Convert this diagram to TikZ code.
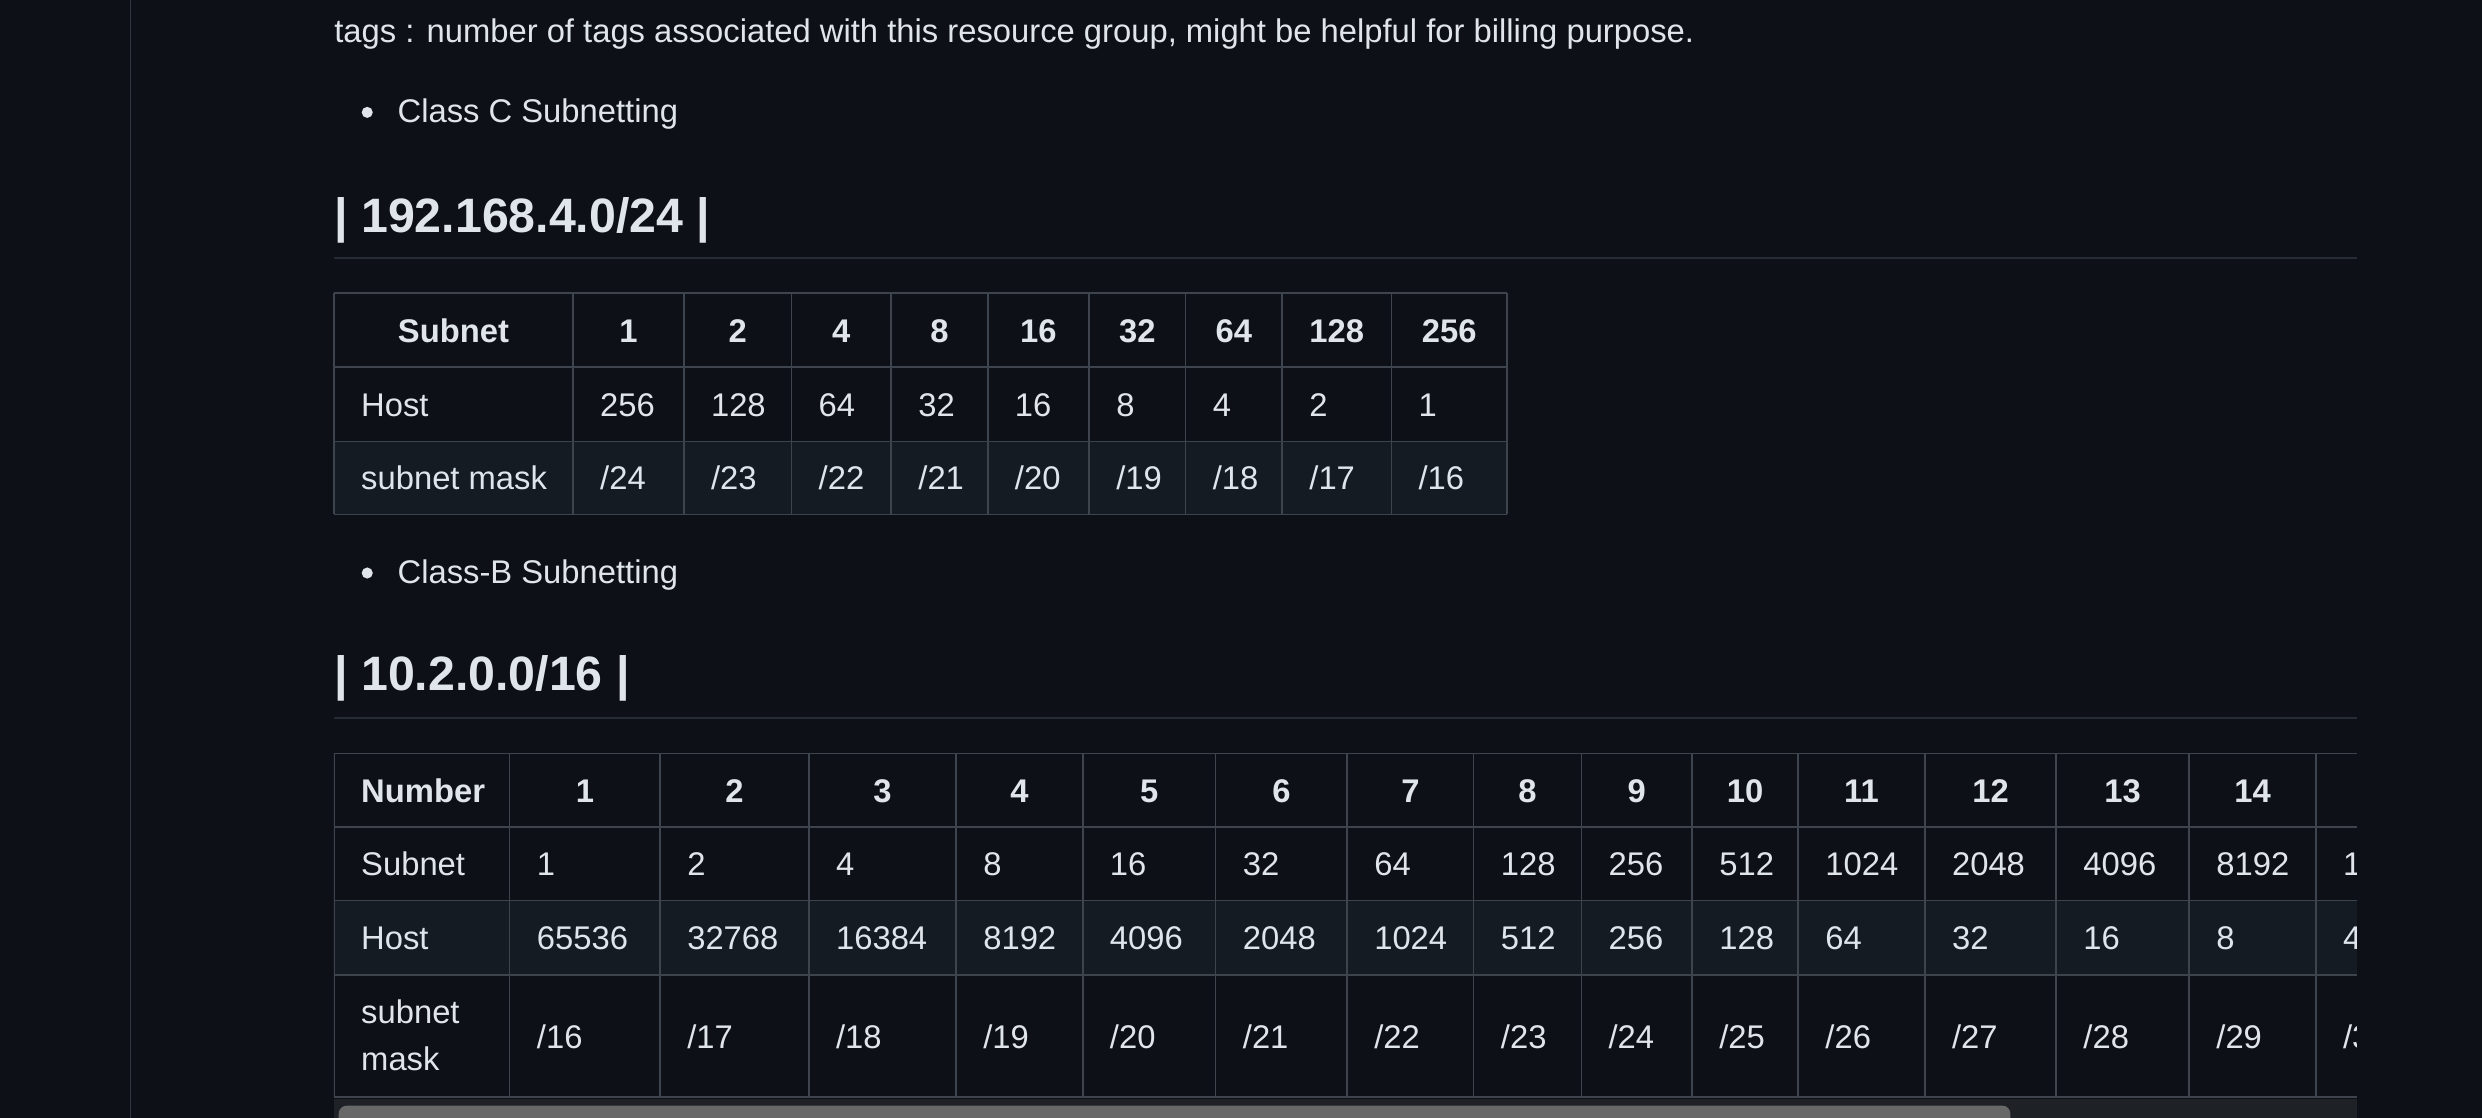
\documentclass[tikz,border=0pt]{standalone}
\usepackage{fontspec}
\setmainfont{Liberation Sans}
\definecolor{pagebg}{HTML}{0D1117}
\definecolor{ink}{HTML}{DFE5EB}
\definecolor{gridline}{HTML}{3D444D}
\definecolor{sideline}{HTML}{30363D}
\definecolor{hrule}{HTML}{262C34}
\definecolor{stripe}{HTML}{151B23}
\definecolor{track}{HTML}{1E2227}
\definecolor{thumb}{HTML}{686868}

\begin{document}
\begin{tikzpicture}[x=1pt,y=-1pt,
  txt/.style={text=ink, inner sep=0pt, anchor=base west, font=\fontsize{20.7}{24}\selectfont},
  hd/.style={txt, anchor=base, font=\fontsize{20.7}{24}\selectfont\bfseries},
  title/.style={txt, font=\fontsize{30.5}{36}\selectfont\bfseries},
  cell/.style={draw=gridline, line width=1pt}]
  \fill[pagebg] (0,0) rectangle (1568,706);
  \useasboundingbox (0,0) rectangle (1568,706);

  \draw[sideline, line width=1pt] (82.5,0) -- (82.5,706);

  \node[txt] (tags) at (211,27) {tags : number of tags associated with this resource group, might be helpful for billing purpose.};

  \fill[ink] (232,71) circle (3.5pt);
  \node[txt] (classc) at (251,77.5) {Class C Subnetting};
  \node[title] (netc) at (211,147) {| 192.168.4.0/24 |};
  \draw[hrule, line width=1.2pt] (211,163) -- (1489,163);

  % table one
  \fill[stripe] (211,279) rectangle (952,325);
  \foreach \x in {211,362,432,500,563,624,688,749,810,879,952}
    \draw[cell] (\x,185) -- (\x,325);
  \foreach \y in {185,232,279,325}
    \draw[cell] (211,\y) -- (952,\y);
  \foreach \t/\cx [count=\i] in {Subnet/286.5,1/397,2/466,4/531.5,8/593.5,16/656,32/718.5,64/779.5,128/844.5,256/915.5}
    \node[hd] (ah\i) at (\cx,216.5) {\t};
  \foreach \t/\lx [count=\i] in {Host/228,256/379,128/449,64/517,32/580,16/641,8/705,4/766,2/827,1/896}
    \node[txt] (ahost\i) at (\lx,263) {\t};
  \node[txt] (amask0) at (228,309.5) {subnet mask};
  \foreach \m/\lx [count=\i] in {24/379,23/449,22/517,21/580,20/641,19/705,18/766,17/827,16/896}
    \node[txt] (amask\i) at (\lx,309.5) {/\m};

  \fill[ink] (232,362) circle (3.5pt);
  \node[txt] (classb) at (251,368.5) {Class-B Subnetting};
  \node[title] (netb) at (211,436.5) {| 10.2.0.0/16 |};
  \draw[hrule, line width=1.2pt] (211,453.5) -- (1489,453.5);

  % table two, cut off by the scroll area
  \begin{scope}
    \clip (211,470) rectangle (1489,693.5);
    \fill[stripe] (211,569) rectangle (1489,616);
    \foreach \x in {211,322,417,511,604,684,768,851,931,999,1069,1136,1216,1299,1383,1463}
      \draw[cell] (\x,476) -- (\x,693);
    \foreach \y in {476,522.5,569,616,693}
      \draw[cell] (211,\y) -- (1489,\y);
    \node[hd, anchor=base west] (bh0) at (228,507) {Number};
    \foreach \t/\cx [count=\i] in {1/369.5,2/464,3/557.5,4/644,5/726,6/809.5,7/891,8/965,9/1034,10/1102.5,11/1176,12/1257.5,13/1341,14/1423}
      \node[hd] (bh\i) at (\cx,507) {\t};
    \node[txt] (bsub0) at (228,553) {Subnet};
    \foreach \t/\lx [count=\i] in {1/339,2/434,4/528,8/621,16/701,32/785,64/868,128/948,256/1016,512/1086,1024/1153,2048/1233,4096/1316,8192/1400,16384/1480}
      \node[txt] (bsub\i) at (\lx,553) {\t};
    \node[txt] (bhost0) at (228,600) {Host};
    \foreach \t/\lx [count=\i] in {65536/339,32768/434,16384/528,8192/621,4096/701,2048/785,1024/868,512/948,256/1016,128/1086,64/1153,32/1233,16/1316,8/1400,4/1480}
      \node[txt] (bhost\i) at (\lx,600) {\t};
    \node[txt] (bmask0) at (228,646.5) {subnet};
    \node[txt] (bmaskb) at (228,676.5) {mask};
    \foreach \m/\lx [count=\i] in {16/339,17/434,18/528,19/621,20/701,21/785,22/868,23/948,24/1016,25/1086,26/1153,27/1233,28/1316,29/1400,30/1480}
      \node[txt] (bmask\i) at (\lx,662.5) {/\m};
  \end{scope}

  % scroll bar
  \fill[track] (211,694) rectangle (1489,706);
  \begin{scope}
    \clip (211,694) rectangle (1489,706);
    \fill[thumb, rounded corners=5pt] (214,698.5) rectangle (1270,716);
  \end{scope}
\end{tikzpicture}
\end{document}
